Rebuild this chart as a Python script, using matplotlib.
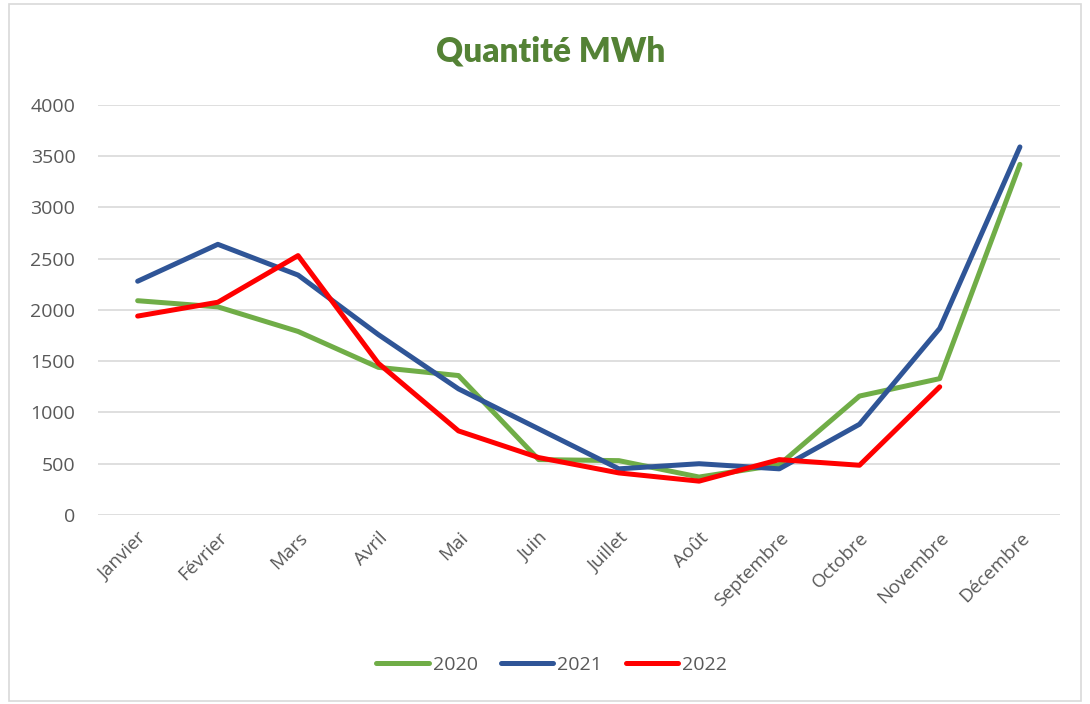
import matplotlib.pyplot as plt
from matplotlib.patches import Rectangle

months = ['Janvier', 'Février', 'Mars', 'Avril', 'Mai', 'Juin', 'Juillet',
          'Août', 'Septembre', 'Octobre', 'Novembre', 'Décembre']
q2020 = [2090, 2030, 1790, 1440, 1360, 540, 530, 370, 490, 1160, 1330, 3420]
q2021 = [2280, 2640, 2340, 1760, 1230, 840, 450, 500, 450, 885, 1820, 3590]
q2022 = [1940, 2075, 2530, 1480, 820, 560, 410, 330, 540, 485, 1250]

plt.rcParams['font.family'] = ['Open Sans', 'DejaVu Sans']

fig = plt.figure(figsize=(10.9, 7.04), dpi=100)
# light border like the Excel chart frame
fig.patches.append(Rectangle((0.008, 0.004), 0.984, 0.99, transform=fig.transFigure,
                             fill=False, edgecolor='#d9d9d9', linewidth=1.2))
ax = fig.add_axes([0.0895, 0.2685, 0.883, 0.5825])

x = list(range(len(months)))
style = dict(lw=3.6, solid_joinstyle='round', solid_capstyle='round')
ax.plot(x, q2020, color='#70ad47', label='2020', **style)
ax.plot(x, q2021, color='#2f5597', label='2021', **style)
ax.plot(x[:len(q2022)], q2022, color='#ff0000', label='2022', **style)

ax.set_xlim(-0.5, len(months) - 0.5)
ax.set_ylim(0, 4000)
ax.set_yticks(range(0, 4001, 500))
ax.set_xticks(x)
ax.set_xticklabels(months, rotation=45, ha='right', rotation_mode='anchor')
ax.tick_params(axis='both', length=0, labelsize=14, colors='#595959')
ax.tick_params(axis='x', labelsize=13.5, pad=10)
ax.tick_params(axis='y', pad=16)
ax.grid(axis='y', color='#d9d9d9', lw=1.2)
ax.set_axisbelow(True)
for s in ax.spines.values():
    s.set_visible(False)

fig.text(0.505, 0.927, 'Quantité MWh', ha='center', va='center', fontsize=24,
         fontweight='heavy', color='#548235', family=['Lato', 'DejaVu Sans'])

fig.legend(loc='center', bbox_to_anchor=(0.506, 0.055), ncol=3, frameon=False,
           fontsize=14, handlelength=2.7, handletextpad=0.2, columnspacing=1.2,
           labelcolor='#595959')

fig.savefig('out.png', dpi=100)
